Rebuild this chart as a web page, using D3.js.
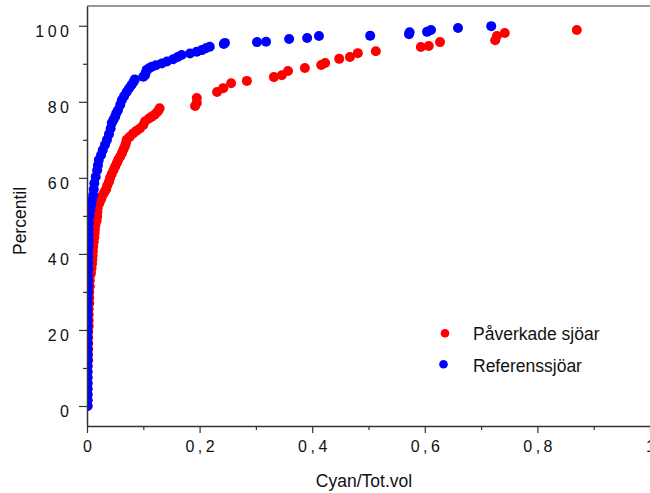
<!DOCTYPE html>
<html><head><meta charset="utf-8">
<script src="https://cdn.jsdelivr.net/npm/d3@7"></script>
<style>body{margin:0;background:#fff}svg{display:block}text{font-family:"Liberation Sans",Arial,Helvetica,sans-serif;fill:#111}</style>
</head><body>
<script>
// Påverkade sjöar (red)
const redX = [0.001,0.001,0.001,0.001,0.001,0.001,0.001,0.001,0.002,0.002,0.002,0.002,0.002,0.002,0.003,0.003,0.003,0.003,0.004,0.004,0.004,0.005,0.005,0.006,
  0.007,0.008,0.009,0.0095,0.010,0.0105,0.011,0.012,0.013,0.0135,0.014,0.015,0.017,0.018,0.0185,0.019,0.022,0.025,0.028,0.031,0.034,0.036,0.039,0.041,0.044,0.047,0.050,0.053,0.0556,0.059,0.062,0.0645,0.067,0.069,0.0705,0.076,0.082,0.088,0.094,0.100,0.103,0.110,0.115,0.120,0.124,0.127,0.129,
  0.192,0.195,0.195,0.231,0.242,0.256,0.284,0.332,0.346,0.357,0.387,0.416,0.423,0.448,0.467,0.481,0.513,0.593,0.607,0.627,0.725,0.728,0.742,0.870];
const redY = [0,1.5,3,4.5,6,7.5,9,10.5,12,13.5,15,16.5,18,19.5,21,22.5,24,25.5,27,28.5,30,31.5,33,34.5,
  35,36.2,37.4,38.5,39.6,40.8,42,43.2,44.4,45.5,46.5,47.6,48.7,49.8,51,52.1,53.3,54.4,55.5,56.3,57,58,59,60,61,62,63,63.9,64.8,65.6,66.5,67.4,68.2,69.1,70,70.8,71.7,72.4,73.0,73.9,74.8,75.6,76.1,76.6,77.2,77.7,78.3,78.9,
  79.7,81.0,82.6,83.6,84.9,85.5,86.5,87.0,88.1,88.9,89.7,90.2,91.3,91.8,92.8,93.3,94.4,94.7,95.7,96.2,97.3,98.1,98.9,99.4];
// Referenssjöar (blue)
const blueX = [0.001,0.001,0.001,0.001,0.001,0.001,0.001,0.001,0.001,0.001,0.001,0.001,0.001,0.001,0.001,0.001,0.001,0.001,0.001,0.001,0.002,0.002,0.002,0.002,0.002,0.002,0.002,0.002,0.003,0.003,0.003,0.003,
  0.0035,0.0045,0.006,0.0075,0.009,0.011,0.012,0.013,0.0155,0.018,0.0195,0.021,0.025,0.028,0.032,0.0355,0.039,0.042,0.044,0.047,0.050,0.052,0.055,0.059,0.062,0.066,0.0705,0.0745,0.079,0.0826,0.085,0.100,0.103,0.104,0.106,0.110,0.115,0.1225,0.1327,0.142,0.153,0.161,0.168,0.183,0.195,0.204,0.211,0.218,0.243,0.245,
  0.302,0.318,0.359,0.391,0.412,0.503,0.572,0.573,0.604,0.611,0.659,0.718];
const blueY = [0,1.5,3,4.5,6,7.5,9,10.5,12,13.5,15,16.5,18,19.5,21,22.5,24,25.5,27,28.5,30,31.5,33,34.5,36,37.5,39,40.5,42,43.5,45,46.5,
  48,50,51.5,53,54.2,55.5,57,58.6,60.3,62,63.3,64.7,66,67.3,68.7,70,71.5,73,74.4,75.3,76.1,77,77.8,79.2,80.5,81.5,82.6,83.5,84.4,85.2,85.9,86.6,87.0,87.6,88.4,88.8,89.2,89.6,90.1,90.6,91.2,91.8,92.3,92.7,93.2,93.6,94.1,94.5,95.2,95.5,
  95.7,95.8,96.5,96.8,97.3,97.4,97.8,98.3,98.4,98.9,99.4,99.9];
const xTicks = [0,0.2,0.4,0.6,0.8,1];
const xTickLabels = ["0","0,2","0,4","0,6","0,8","1"];
const xMinor = [0.1,0.3,0.5,0.7,0.9];
const yTicks = [0,20,40,60,80,100];
const yMinor = [10,30,50,70,90];
const seriesNames = ["Påverkade sjöar","Referenssjöar"];
const seriesColors = ["#ff0000","#0000ff"];

const W=650,H=493, L=87, R=650, T=6, B=426;
const svg=d3.select("body").append("svg").attr("width",W).attr("height",H);
const x=d3.scaleLinear().domain([0,1]).range([L,R]);
const y=d3.scaleLinear().domain([-5.26,105.2]).range([B,T]);

svg.append("defs").append("clipPath").attr("id","clip").append("rect")
  .attr("x",L).attr("y",T).attr("width",R-L).attr("height",B-T);

// top border
svg.append("line").attr("x1",L).attr("x2",R).attr("y1",T).attr("y2",T).attr("stroke","#777").attr("stroke-width",1.5);

const g=svg.append("g").attr("clip-path","url(#clip)");
const red=d3.range(redX.length).map(i=>[redX[i],redY[i]]);
const blue=d3.range(blueX.length).map(i=>[blueX[i],blueY[i]]);
g.selectAll("circle.r").data(red).join("circle").attr("class","r")
  .attr("cx",d=>x(d[0])).attr("cy",d=>y(d[1])).attr("r",5).attr("fill",seriesColors[0]);
g.selectAll("circle.b").data(blue).join("circle").attr("class","b")
  .attr("cx",d=>x(d[0])).attr("cy",d=>y(d[1])).attr("r",5).attr("fill",seriesColors[1]);

const LS=3.5;
// y axis
const ya=svg.append("g").attr("transform",`translate(${L},0)`)
  .call(d3.axisLeft(y).tickValues(yTicks).tickSize(8).tickSizeOuter(0).tickPadding(10-LS));
const yb=svg.append("g").attr("transform",`translate(${L},0)`)
  .call(d3.axisLeft(y).tickValues(yMinor).tickSize(4).tickSizeOuter(0).tickFormat(""));
yb.select(".domain").remove();
// x axis
const xa=svg.append("g").attr("transform",`translate(0,${B})`)
  .call(d3.axisBottom(x).tickValues(xTicks).tickSize(7).tickSizeOuter(0).tickFormat((d,i)=>xTickLabels[i]));
const xb=svg.append("g").attr("transform",`translate(0,${B})`)
  .call(d3.axisBottom(x).tickValues(xMinor).tickSize(4).tickSizeOuter(0).tickFormat(""));
xb.select(".domain").remove();
svg.selectAll(".domain").attr("stroke","#333").attr("stroke-width",1.5);
svg.selectAll(".tick line").attr("stroke","#333").attr("stroke-width",1.2);
ya.selectAll("text").attr("font-size",16).attr("letter-spacing",LS).attr("dy","0.66em").attr("fill","#111")
  .style("font-family","'Liberation Sans',Arial,sans-serif");
xa.selectAll("text").attr("font-size",16).attr("letter-spacing",LS).attr("y",26).attr("dy",0).attr("dx",LS/2).attr("fill","#111")
  .style("font-family","'Liberation Sans',Arial,sans-serif");

// axis titles
svg.append("text").attr("x",364).attr("y",487).attr("text-anchor","middle").attr("font-size",17.5).text("Cyan/Tot.vol");
svg.append("text").attr("transform","translate(26,221) rotate(-90)").attr("text-anchor","middle").attr("font-size",17.5).text("Percentil");

// legend
const leg=svg.append("g");
[[445,333.3,340],[443.5,364.3,371.5]].forEach((p,i)=>{
  leg.append("circle").attr("cx",p[0]).attr("cy",p[1]).attr("r",4.3).attr("fill",seriesColors[i]);
  leg.append("text").attr("x",473).attr("y",p[2]).attr("font-size",17.5).text(seriesNames[i]);
});
</script>
</body></html>
